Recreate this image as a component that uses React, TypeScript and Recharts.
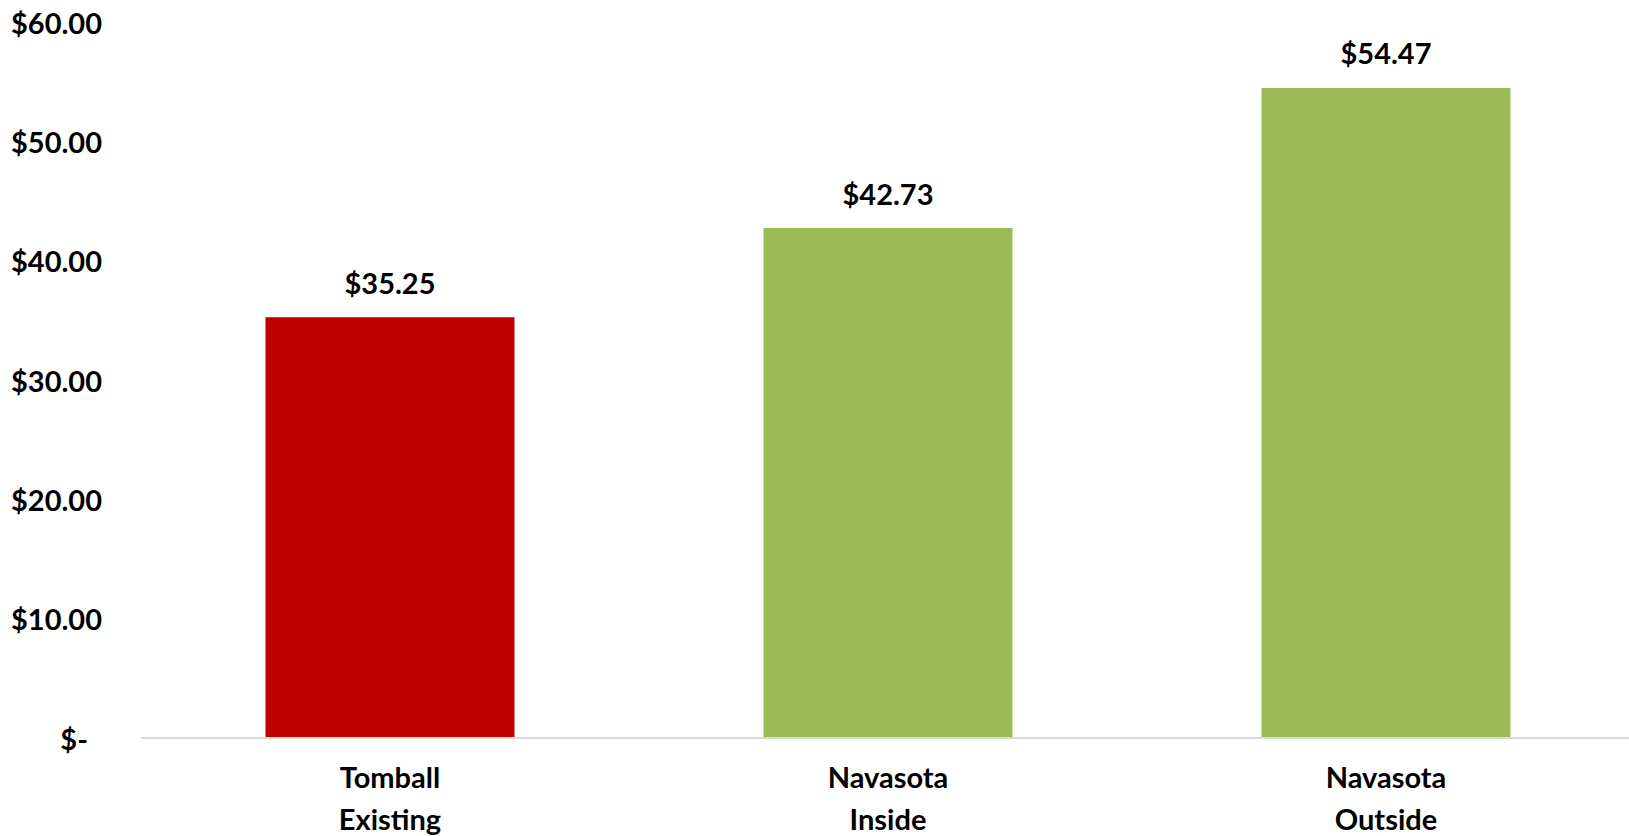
import React from "react";
import { BarChart, Bar, XAxis, YAxis, Cell, LabelList } from "recharts";

const categories = ["Tomball Existing", "Navasota Inside", "Navasota Outside"];
const rates = [35.25, 42.73, 54.47];
const barColors = ["#C00000", "#9BBB59", "#9BBB59"];
const yTicks = [0, 10, 20, 30, 40, 50, 60];

const data = categories.map((name, i) => ({ name, value: rates[i] }));

const FONT = "Lato, 'Open Sans', sans-serif";

const money = (v: number) => (v === 0 ? "$-" : `$${v.toFixed(2)}`);

const YTick = ({ x, y, payload }: any) => {
  const v = payload.value as number;
  // zero value is drawn like Excel's accounting format, a bit more to the left
  const dx = v === 0 ? -45 : -31;
  return (
    <text
      x={x + dx}
      y={y}
      textAnchor="end"
      dominantBaseline="central"
      fontFamily={FONT}
      fontWeight={700}
      fontSize={29}
      fill="#000"
    >
      {money(v)}
    </text>
  );
};

const XTick = ({ x, y, payload }: any) => {
  const words = String(payload.value).split(" ");
  return (
    <text
      x={x}
      y={y}
      textAnchor="middle"
      fontFamily={FONT}
      fontWeight={700}
      fontSize={29}
      fill="#000"
    >
      {words.map((w, i) => (
        <tspan key={i} x={x} dy={i === 0 ? 42 : 42}>
          {w}
        </tspan>
      ))}
    </text>
  );
};

const ValueLabel = ({ x, y, width, value }: any) => (
  <text
    x={x + width / 2}
    y={y - 35}
    textAnchor="middle"
    dominantBaseline="central"
    fontFamily={FONT}
    fontWeight={700}
    fontSize={29}
    fill="#000"
  >
    {money(value)}
  </text>
);

export default function App() {
  return (
    <div
      style={{
        position: "absolute",
        left: 0,
        top: 0,
        width: 1629,
        height: 836,
        overflow: "hidden",
        background: "#fff",
      }}
    >
      <BarChart
        width={1635}
        height={836}
        data={data}
        margin={{ top: 22, right: 0, left: 0, bottom: 0 }}
        barCategoryGap="25%"
      >
        <XAxis
          dataKey="name"
          height={98}
          axisLine={{ stroke: "#D9D9D9", strokeWidth: 2 }}
          tickLine={false}
          tick={<XTick />}
          interval={0}
        />
        <YAxis
          width={141}
          domain={[0, 60]}
          ticks={yTicks}
          axisLine={false}
          tickLine={false}
          tick={<YTick />}
        />
        <Bar dataKey="value" isAnimationActive={false}>
          {data.map((_, i) => (
            <Cell key={`cell-${i}`} fill={barColors[i]} />
          ))}
          <LabelList dataKey="value" content={<ValueLabel />} />
        </Bar>
      </BarChart>
    </div>
  );
}
